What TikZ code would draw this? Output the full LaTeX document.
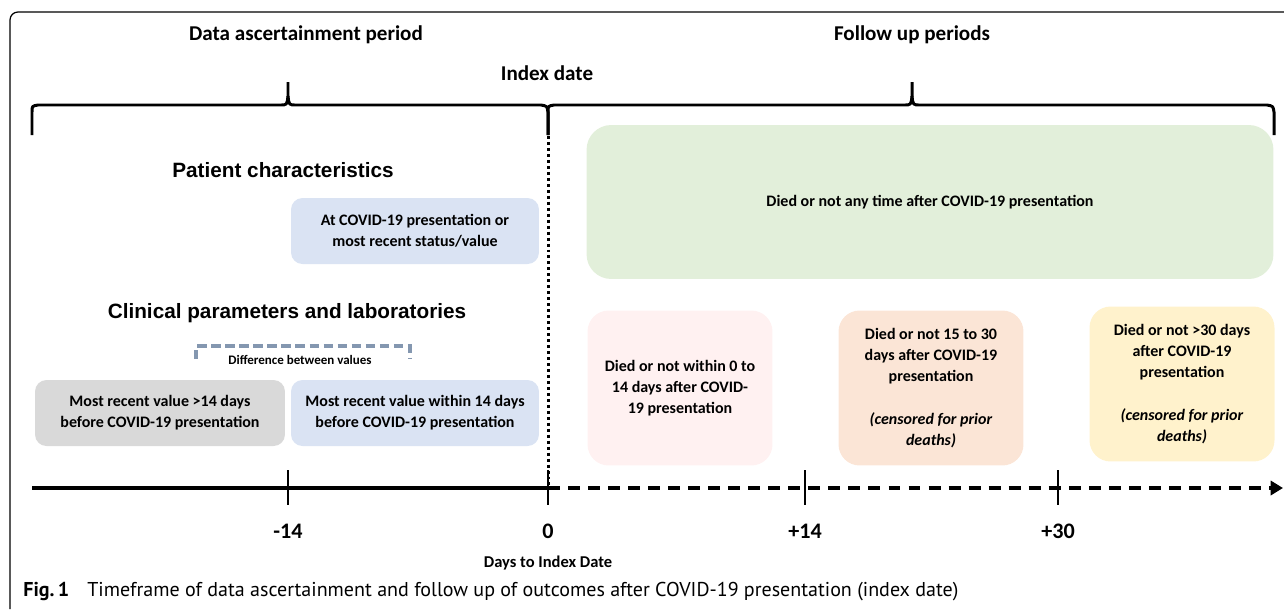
\documentclass[tikz,border=0pt]{standalone}
\usepackage{fontspec}
\setmainfont{Carlito}
\newfontfamily\headfont{Liberation Sans}
\newfontfamily\capfont{PT Sans}
\usepackage{xcolor}
\usepackage{tikz}
\usetikzlibrary{arrows.meta,positioning}
\definecolor{boxBlue}{HTML}{DAE3F3}
\definecolor{boxGray}{HTML}{D9D9D9}
\definecolor{boxGreen}{HTML}{E2EFDA}
\definecolor{boxPink}{HTML}{FFF1F1}
\definecolor{boxPeach}{HTML}{FBE5D6}
\definecolor{boxYellow}{HTML}{FFF2CC}
\definecolor{diffSlate}{HTML}{8497B0}

\begin{document}
\begin{tikzpicture}[
    x=0.02cm,y=-0.02cm,
    every node/.style={inner sep=0pt},
    ttl/.style ={font=\fontsize{12}{14}\selectfont\bfseries},
    head/.style={font=\headfont\fontsize{11.8}{14}\selectfont\bfseries},
    box/.style ={rectangle,rounded corners=6.5pt,align=center,
                 font=\fontsize{9.1}{11.8}\selectfont\bfseries},
    outc/.style={rectangle,rounded corners=12pt,align=center,
                 minimum width=3.7cm,minimum height=3.1cm,
                 font=\fontsize{9.1}{12}\selectfont\bfseries},
    brace/.style={line width=1.7pt,line join=round},
    tick/.style={line width=1.1pt},
    tlab/.style={font=\fontsize{12.6}{14}\selectfont\bfseries}
  ]
  \useasboundingbox (0,0) rectangle (1284,609);
  %% frame round the figure
  \draw[line width=0.7pt,rounded corners=4.5pt] (10,609) |- (1284,12);

  %% period titles and braces
  \node[ttl] (dataTtl)   at (306,35) {Data ascertainment period};
  \node[ttl] (followTtl) at (912,35) {Follow up periods};
  \node[ttl] (indexLbl)  at (547,73) {Index date};
  \draw[brace] (32,135) -- (32,112) .. controls (32,106) .. (38,105) -- (280,105)
        .. controls (287,105) .. (288,96) -- (288,82);
  \draw[brace] (288,96) .. controls (289,105) .. (296,105) -- (541,105)
        .. controls (547,106) .. (548,112) -- (548,135);
  \draw[brace] (548,135) -- (548,112) .. controls (548,106) .. (554,105) -- (904,105)
        .. controls (911,105) .. (912,96) -- (912,82);
  \draw[brace] (912,96) .. controls (913,105) .. (920,105) -- (1267,105)
        .. controls (1273,106) .. (1274,112) -- (1274,135);

  %% ascertainment side
  \node[head] (patHead)  at (283,170) {Patient characteristics};
  \node[box,fill=boxBlue,minimum width=4.96cm,minimum height=1.32cm]
        (patBox) at (415,231) {At COVID-19 presentation or\\most recent status/value};
  \node[head] (clinHead) at (287,313) {Clinical parameters and laboratories};
  \node[box,fill=boxGray,minimum width=5cm,minimum height=1.32cm]
        (oldBox) at (160,413) {Most recent value >14 days\\before COVID-19 presentation};
  \node[box,fill=boxBlue,minimum width=4.96cm,minimum height=1.32cm]
        (recentBox) at (415,413) {Most recent value within 14 days\\before COVID-19 presentation};
  \node[font=\fontsize{7.4}{8}\selectfont\bfseries] (diffLbl) at (300,360) {Difference between values};
  \draw[diffSlate,line width=2pt,dash pattern=on 5.4pt off 2.6pt]
        (196,359) -- (196,346) -- (410,346) -- (410,359);

  %% follow up side
  \node[box,fill=boxGreen,rounded corners=14pt,minimum width=13.74cm,minimum height=3.08cm]
        (anyBox) at (930,202) {Died or not any time after COVID-19 presentation};
  \node[outc,fill=boxPink] (earlyBox) at (680,388)
        {Died or not within 0 to\\14 days after COVID-\\19 presentation};
  \node[outc,fill=boxPeach] (midBox) at (931,388)
        {Died or not 15 to 30\\days after COVID-19\\presentation\\[12pt]\textit{(censored for prior}\\\textit{deaths)}};
  \node[outc,fill=boxYellow] (lateBox) at (1182,384)
        {Died or not >30 days\\after COVID-19\\presentation\\[12pt]\textit{(censored for prior}\\\textit{deaths)}};

  %% time axis
  \coordinate (axisStart) at (32,488);
  \coordinate (axisZero)  at (548,488);
  \coordinate (axisEnd)   at (1283,488);
  \coordinate (idxTop)    at (548,136);
  \draw[line width=1.7pt,dash pattern=on 1.7pt off 1.7pt] (idxTop) -- (axisZero);
  \draw[line width=2.3pt] (axisStart) -- (axisZero);
  \draw[line width=1.8pt,dash pattern=on 6.8pt off 4.6pt,-{Triangle[length=7pt,width=8pt]}]
        (axisZero) -- (axisEnd);
  \foreach \x/\lbl/\nm in {288/-14/mFourteen,548/0/zero,805/+14/pFourteen,1058/+30/pThirty}{
    \draw[tick] (\x,470) -- (\x,505);
    \node[tlab] (tick\nm) at (\x,531) {\lbl};
  }
  \node[font=\fontsize{9.4}{11}\selectfont\bfseries] (daysLbl) at (548,563) {Days to Index Date};

  %% caption
  \node[anchor=west,font=\capfont\fontsize{11.4}{13}\selectfont] (figCap) at (23,592)
        {\textbf{Fig.\,1}\hspace{0.9em}Timeframe of data ascertainment and follow up of outcomes after COVID-19 presentation (index date)};
\end{tikzpicture}
\end{document}
